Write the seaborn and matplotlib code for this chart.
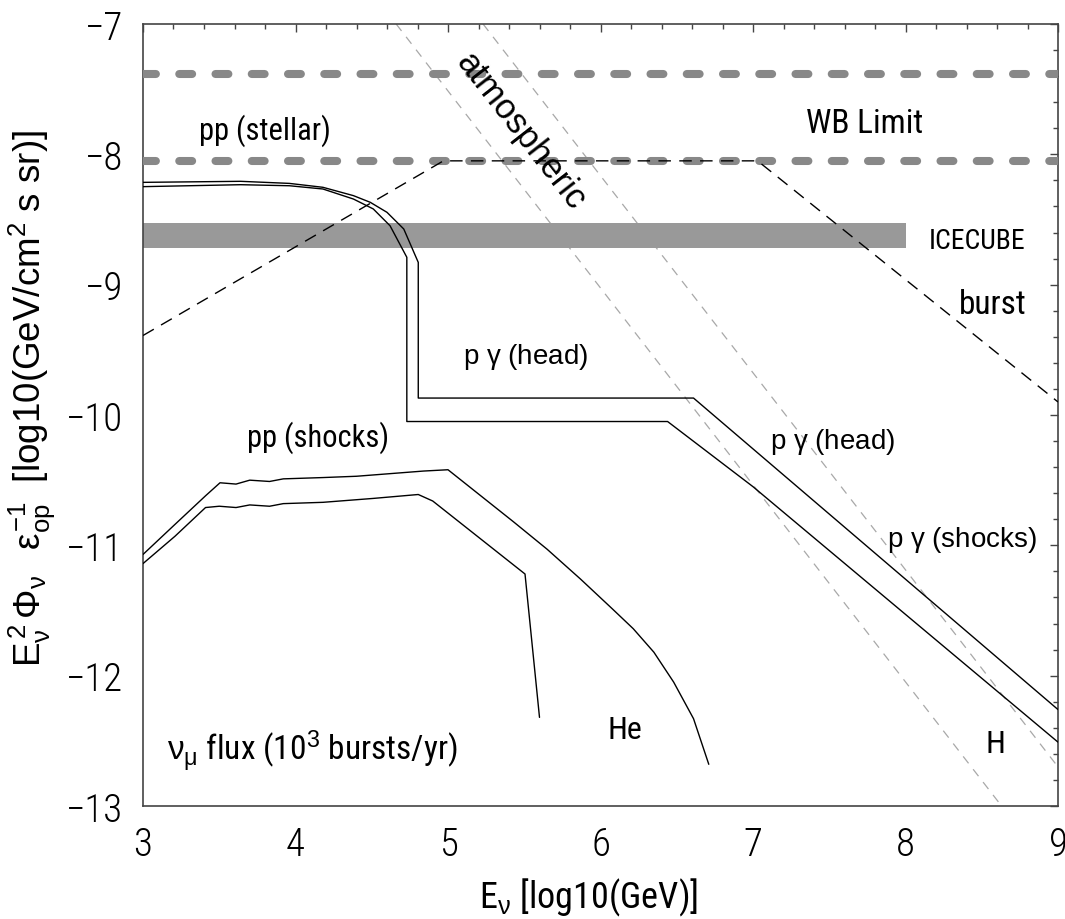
import numpy as np
import pandas as pd
import matplotlib
matplotlib.use("Agg")
import matplotlib.pyplot as plt
import seaborn as sns

# ---------------- data (log10 E [GeV], log10 flux) ----------------
# pp (stellar) -> p gamma (head), outer (upper) curve
head_outer_x = [3.00, 3.64, 3.96, 4.18, 4.38, 4.49, 4.60, 4.71, 4.805, 4.805, 6.61, 9.00]
head_outer_y = [-8.215, -8.207, -8.223, -8.253, -8.317, -8.368, -8.445, -8.573, -8.829, -9.87, -9.87, -12.26]
# pp (stellar) -> p gamma (shocks), inner (lower) curve
head_inner_x = [3.00, 3.64, 3.96, 4.18, 4.38, 4.51, 4.62, 4.73, 4.73, 6.44, 7.00, 9.00]
head_inner_y = [-8.248, -8.233, -8.241, -8.266, -8.343, -8.419, -8.548, -8.79, -10.05, -10.05, -10.55, -12.51]
# pp (shocks) -> He
shock_he_x = [3.00, 3.20, 3.41, 3.505, 3.61, 3.70, 3.83, 3.92, 4.18, 4.40, 4.51, 4.84, 5.00,
              5.43, 5.65, 5.87, 6.08, 6.215, 6.35, 6.48, 6.61, 6.71]
shock_he_y = [-11.07, -10.85, -10.62, -10.52, -10.53, -10.50, -10.51, -10.49, -10.48, -10.47, -10.46, -10.43, -10.42,
              -10.82, -11.03, -11.26, -11.49, -11.64, -11.82, -12.05, -12.33, -12.68]
# pp (shocks) -> H
shock_h_x = [3.00, 3.21, 3.41, 3.50, 3.61, 3.70, 3.83, 3.92, 4.18, 4.40, 4.51, 4.805, 4.90, 5.505, 5.60]
shock_h_y = [-11.14, -10.93, -10.71, -10.70, -10.71, -10.69, -10.70, -10.68, -10.67, -10.65, -10.64, -10.61, -10.66, -11.22, -12.32]
# burst dashed
burst_x = [3.00, 4.97, 7.03, 9.00]
burst_y = [-9.39, -8.05, -8.05, -9.90]
# atmospheric background (two lines)
atm1_x = [4.66, 8.63]
atm1_y = [-7.00, -13.00]
atm2_x = [5.23, 9.00]
atm2_y = [-7.00, -12.70]
# WB limits
wb_levels = [-7.38, -8.05]
wb_x = [3.0, 9.0]
# ICECUBE band
ice_x = [3.0, 8.0]
ice_low = -8.72
ice_high = -8.53

x_ticks = [3, 4, 5, 6, 7, 8, 9]
x_ticklabels = ["3", "4", "5", "6", "7", "8", "9"]
y_ticks = [-13, -12, -11, -10, -9, -8, -7]
y_ticklabels = ["\u221213", "\u221212", "\u221211", "\u221210", "\u22129", "\u22128", "\u22127"]

labels = [
    ("pp (stellar)", 3.80, -7.81, "narrow", 22, 0),
    ("WB Limit", 7.73, -7.76, "narrow", 24, 0),
    ("ICECUBE", 8.47, -8.66, "narrow", 20, 0),
    ("burst", 8.57, -9.15, "narrow", 24, 0),
    ("p $\\gamma$ (head)", 5.51, -9.55, "regular", 20, 0),
    ("p $\\gamma$ (head)", 7.52, -10.20, "regular", 20, 0),
    ("p $\\gamma$ (shocks)", 8.37, -10.95, "regular", 20, 0),
    ("pp (shocks)", 4.15, -10.17, "narrow", 22, 0),
    ("He", 6.16, -12.41, "narrow", 23, 0),
    ("H", 8.59, -12.52, "narrow", 23, 0),
    ("atmospheric", 5.48, -7.82, "regular", 25, -52),
]

# ---------------- style ----------------
sns.set_style("white")
NARROW = ["Liberation Sans Narrow", "Roboto Condensed", "Open Sans Condensed",
          "DejaVu Sans Condensed", "Liberation Sans", "DejaVu Sans"]
REGULAR = ["Liberation Sans", "DejaVu Sans"]
plt.rcParams["font.family"] = NARROW
plt.rcParams["font.stretch"] = "condensed"
plt.rcParams["mathtext.fontset"] = "custom"
plt.rcParams["mathtext.rm"] = "Liberation Sans"
plt.rcParams["mathtext.it"] = "Liberation Sans"
plt.rcParams["mathtext.bf"] = "Liberation Sans:bold"
plt.rcParams["mathtext.sf"] = "Liberation Sans"
plt.rcParams["axes.unicode_minus"] = True
plt.rcParams["text.color"] = "black"
plt.rcParams["axes.labelcolor"] = "black"
plt.rcParams["xtick.color"] = "black"
plt.rcParams["ytick.color"] = "black"

fig = plt.figure(figsize=(10.65, 9.2), dpi=100)
ax = fig.add_axes([143 / 1065, 1 - 807 / 920, 915 / 1065, 782 / 920])

# atmospheric lines
for xs, ys in [(atm1_x, atm1_y), (atm2_x, atm2_y)]:
    sns.lineplot(x=xs, y=ys, ax=ax, color="#a8a8a8", lw=0.9,
                 linestyle=(0, (7, 6)), estimator=None, sort=False, zorder=1)

# ICECUBE band
ax.fill_between(ice_x, [ice_low, ice_low], [ice_high, ice_high], color="#999999", lw=0, zorder=2)

# WB limits
for lev in wb_levels:
    sns.lineplot(x=wb_x, y=[lev, lev], ax=ax, color="#888888", lw=5.8,
                 linestyle=(0, (1.6, 2.9)), dash_capstyle="round",
                 estimator=None, sort=False, zorder=3)

# burst
sns.lineplot(x=burst_x, y=burst_y, ax=ax, color="black", lw=1.0,
             linestyle=(0, (9, 6)), estimator=None, sort=False, zorder=4)

# model curves
for xs, ys in [(head_outer_x, head_outer_y), (head_inner_x, head_inner_y),
               (shock_he_x, shock_he_y), (shock_h_x, shock_h_y)]:
    sns.lineplot(x=xs, y=ys, ax=ax, color="black", lw=1.0,
                 estimator=None, sort=False, zorder=5)

# labels
for txt, x, y, fam, size, rot in labels:
    if fam == "narrow":
        ax.text(x, y, txt, ha="center", va="center", fontsize=size, rotation=rot,
                rotation_mode="anchor", family=NARROW, fontstretch="condensed", zorder=6)
    else:
        ax.text(x, y, txt, ha="center", va="center", fontsize=size, rotation=rot,
                rotation_mode="anchor", family=REGULAR, fontstretch="normal", zorder=6)

ax.text(3.16, -12.57, "$\\nu_{\\mu}$ flux (10$^3$ bursts/yr)", ha="left", va="center",
        fontsize=24, family=NARROW, fontstretch="condensed", zorder=6)

# axes
ax.set_xlim(3, 9)
ax.set_ylim(-13, -7)
ax.set_xticks(x_ticks, labels=x_ticklabels)
ax.set_yticks(y_ticks, labels=y_ticklabels)
ax.xaxis.set_minor_locator(matplotlib.ticker.MultipleLocator(0.2))
ax.yaxis.set_minor_locator(matplotlib.ticker.MultipleLocator(0.2))
ax.tick_params(which="both", direction="in", top=True, right=True, color="#444444", width=1.0)
ax.tick_params(which="major", length=6, pad=14, labelsize=28)
ax.tick_params(which="minor", length=3.5)
for lab in ax.get_xticklabels() + ax.get_yticklabels():
    lab.set_family(NARROW)
    lab.set_fontstretch("condensed")
    lab.set_fontweight("light")
for sp in ax.spines.values():
    sp.set_color("#444444")
    sp.set_linewidth(1.2)

ax.set_xlabel("E$_{\\nu}$ [log10(GeV)]", fontsize=26, family=NARROW, fontstretch="condensed")
ax.xaxis.set_label_coords(0.487, -0.0895)
ax.set_ylabel("E$^{\\,2}_{\\nu}\\,\\Phi_{\\nu}\\;\\;\\;\\varepsilon^{-1}_{op}\\;$ [log10(GeV/cm$^2$ s sr)]",
              fontsize=26.5, family=REGULAR, fontstretch="normal")
ax.yaxis.set_label_coords(-0.094, 0.523)

fig.savefig("out.png", dpi=100)
